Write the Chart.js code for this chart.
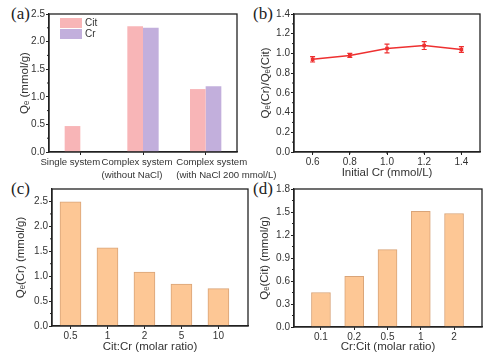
<!DOCTYPE html>
<html>
<head>
<meta charset="utf-8">
<script src="https://cdn.jsdelivr.net/npm/chart.js@4.4.0/dist/chart.umd.min.js"></script>
<style>
  body { margin: 0; background: #fff; width: 493px; height: 362px; position: relative; overflow: hidden; }
  canvas { position: absolute; }
  .lbl { position: absolute; font-family: "Liberation Serif", serif; font-size: 17px; color: #222; }
</style>
</head>
<body>
<div class="lbl" style="left:11px;top:4px">(a)</div>
<div class="lbl" style="left:253px;top:4px">(b)</div>
<div class="lbl" style="left:11px;top:179px">(c)</div>
<div class="lbl" style="left:253px;top:179px">(d)</div>
<canvas id="chartB" width="247" height="181" style="left:246px;top:0"></canvas>
<canvas id="chartC" width="252" height="181" style="left:0;top:181px"></canvas>
<canvas id="chartD" width="247" height="181" style="left:246px;top:181px"></canvas>
<canvas id="chartA" width="290" height="181" style="left:0;top:0"></canvas>
<script>
// (a) single vs complex system
const systemLabels = [['Single system'], ['Complex system', '(without NaCl)'], ['Complex system', '(with NaCl 200 mmol/L)']];
const citQe = [0.47, 2.28, 1.14];
const crQe = [null, 2.25, 1.19];

// (b) ratio vs initial Cr
const initialCr = [0.6, 0.8, 1.0, 1.2, 1.4];
const qeRatio = [0.94, 0.98, 1.05, 1.08, 1.04];
const qeRatioErr = [0.027, 0.02, 0.044, 0.04, 0.03];

// (c) Cit:Cr molar ratio
const citCrLabels = ['0.5', '1', '2', '5', '10'];
const qeCr = [2.49, 1.57, 1.08, 0.84, 0.75];

// (d) Cr:Cit molar ratio
const crCitLabels = ['0.1', '0.2', '0.5', '1', '2'];
const qeCit = [0.45, 0.66, 1.01, 1.51, 1.48];

// label shift in panel (a), the original labels sit a bit off their ticks
const labelNudge = [-10, -6, 6];

const ink = '#222';
const txt = '#333';
const font = 'Liberation Sans, Arial, sans-serif';

Chart.defaults.font.family = font;
Chart.defaults.color = txt;

// box around the plot area
const frame = {
    id: 'frame',
    afterDraw(chart) {
        const a = chart.chartArea, ctx = chart.ctx;
        ctx.save();
        ctx.strokeStyle = ink;
        ctx.lineWidth = 1.3;
        ctx.strokeRect(a.left, a.top, a.right - a.left, a.bottom - a.top);
        ctx.restore();
    }
};

// small ticks between the labelled ones
const minorTicks = {
    id: 'minorTicks',
    afterDraw(chart, args, opts) {
        const ctx = chart.ctx, a = chart.chartArea;
        ctx.save();
        ctx.strokeStyle = ink;
        ctx.lineWidth = 1;
        ['x', 'y'].forEach(k => {
            const step = opts[k];
            if (!step) return;
            const sc = chart.scales[k];
            for (let v = sc.min + step; v < sc.max; v += 2 * step) {
                const p = sc.getPixelForValue(v);
                ctx.beginPath();
                if (k === 'y') { ctx.moveTo(a.left - 2, p); ctx.lineTo(a.left, p); }
                else { ctx.moveTo(p, a.bottom); ctx.lineTo(p, a.bottom + 2); }
                ctx.stroke();
            }
        });
        ctx.restore();
    }
};

// legend boxes inside the plot, top left
const boxLegend = {
    id: 'boxLegend',
    afterDraw(chart) {
        const ctx = chart.ctx, a = chart.chartArea;
        ctx.save();
        ctx.font = '10px ' + font;
        ctx.textBaseline = 'middle';
        ctx.textAlign = 'left';
        chart.data.datasets.forEach((ds, i) => {
            const top = a.top + 4 + i * 11;
            ctx.fillStyle = ds.backgroundColor;
            ctx.fillRect(a.left + 11, top, 22, 10);
            ctx.fillStyle = txt;
            ctx.fillText(ds.label, a.left + 36, top + 5);
        });
        ctx.restore();
    }
};

// two-line category labels of panel (a), lines left aligned like the original
const groupLabels = {
    id: 'groupLabels',
    afterDraw(chart) {
        const ctx = chart.ctx, a = chart.chartArea, x = chart.scales.x;
        ctx.save();
        ctx.font = '9.6px ' + font;
        ctx.fillStyle = txt;
        ctx.textBaseline = 'middle';
        ctx.textAlign = 'left';
        chart.data.labels.forEach((lines, i) => {
            const c = x.getPixelForValue(i) + labelNudge[i];
            const start = c - ctx.measureText(lines[0]).width / 2;
            lines.forEach((s, j) => ctx.fillText(s, start, a.bottom + 10 + j * 13));
        });
        ctx.restore();
    }
};

// error bars for panel (b)
const errorBars = {
    id: 'errorBars',
    afterDatasetsDraw(chart) {
        const ctx = chart.ctx, x = chart.scales.x, y = chart.scales.y;
        ctx.save();
        ctx.strokeStyle = '#ee3030';
        ctx.lineWidth = 1.2;
        initialCr.forEach((c, i) => {
            const px = x.getPixelForValue(c);
            const lo = y.getPixelForValue(qeRatio[i] - qeRatioErr[i]);
            const hi = y.getPixelForValue(qeRatio[i] + qeRatioErr[i]);
            ctx.beginPath();
            ctx.moveTo(px, lo); ctx.lineTo(px, hi);
            ctx.moveTo(px - 2.5, lo); ctx.lineTo(px + 2.5, lo);
            ctx.moveTo(px - 2.5, hi); ctx.lineTo(px + 2.5, hi);
            ctx.stroke();
        });
        ctx.restore();
    }
};

function yAxis(min, max, step, title, width, titlePad) {
    return {
        min: min, max: max,
        afterFit: s => { s.width = width; },
        border: { display: true, color: ink, width: 1.3 },
        grid: { drawOnChartArea: false, tickLength: 3, color: ink },
        ticks: { stepSize: step, padding: 1, font: { size: 10 }, color: txt, includeBounds: false,
                 callback: v => v.toFixed(1) },
        title: { display: true, text: title, font: { size: 11.5 }, color: txt, padding: { top: titlePad } }
    };
}

function xGrid() {
    return { drawOnChartArea: false, tickLength: 3, color: ink, offset: false };
}

const base = {
    responsive: false,
    animation: false,
    devicePixelRatio: 1,
    plugins: { legend: { display: false }, tooltip: { enabled: false } }
};

new Chart(document.getElementById('chartA'), {
    type: 'bar',
    data: {
        labels: systemLabels,
        datasets: [
            { label: 'Cit', data: citQe, backgroundColor: '#f8b5b7' },
            { label: 'Cr', data: crQe, backgroundColor: '#c2afdc' }
        ]
    },
    options: {
        ...base,
        layout: { padding: { top: 14, right: 53, left: 0, bottom: 0 } },
        datasets: { bar: { categoryPercentage: 0.5, barPercentage: 1 } },
        plugins: { ...base.plugins, minorTicks: { y: 0.25 } },
        scales: {
            x: {
                afterFit: s => { s.height = 29; },
                border: { display: true, color: ink, width: 1.3 },
                grid: xGrid(),
                ticks: { display: false }
            },
            y: yAxis(0, 2.5, 0.5, 'Qₑ (mmol/g)', 49, 18)
        }
    },
    plugins: [frame, minorTicks, boxLegend, groupLabels]
});

new Chart(document.getElementById('chartB'), {
    type: 'line',
    data: {
        datasets: [{
            data: initialCr.map((c, i) => ({ x: c, y: qeRatio[i] })),
            borderColor: '#ee3030', backgroundColor: '#ee3030',
            borderWidth: 1.5, pointRadius: 1.5, pointStyle: 'rect'
        }]
    },
    options: {
        ...base,
        layout: { padding: { top: 14, right: 13, left: 0, bottom: 0 } },
        plugins: { ...base.plugins, minorTicks: { x: 0.1, y: 0.1 } },
        scales: {
            x: {
                type: 'linear', min: 0.5, max: 1.5,
                afterFit: s => { s.height = 29; },
                afterBuildTicks: s => { s.ticks = initialCr.map(v => ({ value: v })); },
                border: { display: true, color: ink, width: 1.3 },
                grid: xGrid(),
                ticks: { padding: 1, font: { size: 10 }, color: txt, callback: v => v.toFixed(1) },
                title: { display: true, text: 'Initial Cr (mmol/L)', font: { size: 11.5 }, color: txt, padding: { top: 0, bottom: 1 } }
            },
            y: yAxis(0, 1.4, 0.2, 'Qₑ(Cr)/Qₑ(Cit)', 48, 13)
        }
    },
    plugins: [frame, minorTicks, errorBars]
});

function ratioChart(id, labels, values, xmin, xmax, ymax, ystep, title, xTitle, yWidth, padRight, padTop, xHeight, titlePad, barW) {
    new Chart(document.getElementById(id), {
        type: 'bar',
        data: {
            datasets: [{
                data: values.map((v, i) => ({ x: i, y: v })),
                backgroundColor: '#fdc795', borderColor: '#d9a478', borderWidth: 1,
                barThickness: barW
            }]
        },
        options: {
            ...base,
            layout: { padding: { top: padTop, right: padRight, left: 0, bottom: 0 } },
            plugins: { ...base.plugins, minorTicks: { y: ystep / 2 } },
            scales: {
                x: {
                    type: 'linear', min: xmin, max: xmax, offset: false,
                    afterFit: s => { s.height = xHeight; },
                    afterBuildTicks: s => { s.ticks = labels.map((l, i) => ({ value: i })); },
                    border: { display: true, color: ink, width: 1.3 },
                    grid: xGrid(),
                    ticks: { padding: 1, font: { size: 10 }, color: txt, callback: v => labels[v] },
                    title: { display: true, text: xTitle, font: { size: 11.5 }, color: txt, padding: { top: 0, bottom: 8 } }
                },
                y: yAxis(0, ymax, ystep, title, yWidth, titlePad)
            }
        },
        plugins: [frame, minorTicks]
    });
}

ratioChart('chartC', citCrLabels, qeCr, -0.5, 4.8, 2.75, 0.5, 'Qₑ(Cr) (mmol/g)', 'Cit:Cr (molar ratio)', 52, 4, 8, 36, 14, 21);
ratioChart('chartD', crCitLabels, qeCit, -0.81, 4.84, 1.8, 0.3, 'Qₑ(Cit) (mmol/g)', 'Cr:Cit (molar ratio)', 48, 11, 8, 35, 12, 19);
</script>
</body>
</html>
